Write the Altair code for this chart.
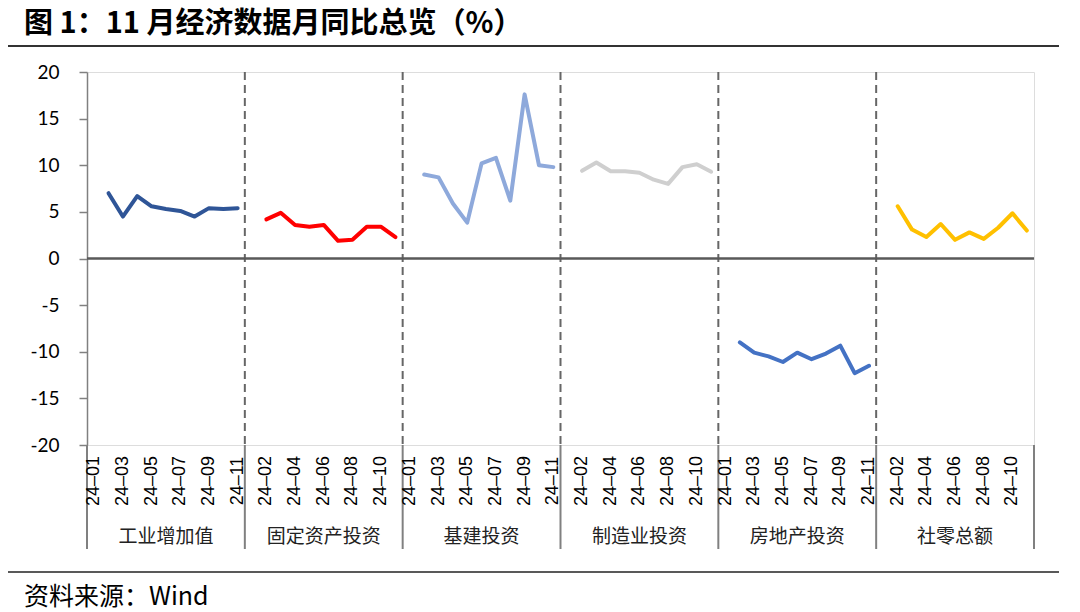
import altair as alt
import pandas as pd

months = ["24-01", "24-02", "24-03", "24-04", "24-05", "24-06",
          "24-07", "24-08", "24-09", "24-10", "24-11"]
groups = ["工业增加值", "固定资产投资", "基建投资", "制造业投资", "房地产投资", "社零总额"]
colors = ["#2F5597", "#FF0000", "#8EA9DB", "#CFCFCF", "#4472C4", "#FFC000"]

# values for 24-02 ... 24-11 (Jan-Feb combined shown at 24-02)
iva = [7.0, 4.5, 6.7, 5.6, 5.3, 5.1, 4.5, 5.4, 5.3, 5.4]
fai = [4.2, 4.9, 3.6, 3.4, 3.6, 1.9, 2.0, 3.4, 3.4, 2.3]
infra = [9.0, 8.7, 5.9, 3.85, 10.2, 10.8, 6.2, 17.6, 10.0, 9.8]
manuf = [9.4, 10.3, 9.35, 9.35, 9.2, 8.45, 8.0, 9.8, 10.1, 9.3]
estate = [-9.0, -10.1, -10.5, -11.1, -10.1, -10.8, -10.2, -9.35, -12.3, -11.5]
retail = [5.6, 3.1, 2.3, 3.7, 2.0, 2.8, 2.1, 3.3, 4.85, 3.0]
series = [iva, fai, infra, manuf, estate, retail]

yticks = [-20, -15, -10, -5, 0, 5, 10, 15, 20]

W, H = 947, 373
N = len(months)
TOTAL = N * len(groups)

rows = []
for g, (name, vals) in enumerate(zip(groups, series)):
    for k, v in enumerate(vals):
        rows.append({"group": name, "x": g * N + (k + 1) + 0.5, "v": v})
line_df = pd.DataFrame(rows)

lab_rows = []
for i in range(0, TOTAL, 2):
    lab_rows.append({"x": i + 0.5, "t": months[i % N].replace("-", "–")})
lab_df = pd.DataFrame(lab_rows)

grp_df = pd.DataFrame({"x": [g * N + N / 2 for g in range(len(groups))], "t": groups})
dash_df = pd.DataFrame({"x": [g * N for g in range(1, len(groups))]})
sep_df = pd.DataFrame({"x": [g * N for g in range(len(groups) + 1)]})

xs = alt.Scale(domain=[0, TOTAL], nice=False, zero=False)
ys = alt.Scale(domain=[-20, 20], nice=False)

dummy = pd.DataFrame({"a": [0]})

dash = alt.Chart(dash_df).mark_rule(color="#666666", strokeWidth=2, strokeDash=[8, 5]).encode(
    x=alt.X("x:Q", scale=xs, axis=None), y=alt.value(0), y2=alt.value(H))

seps = alt.Chart(sep_df).mark_rule(color="#808080", strokeWidth=2).encode(
    x=alt.X("x:Q", scale=xs, axis=None), y=alt.value(H), y2=alt.value(H + 104))

yaxis = alt.Chart(dummy).mark_point(opacity=0).encode(
    y=alt.Y("a:Q", scale=ys, title=None,
            axis=alt.Axis(values=yticks, tickSize=8, tickColor="#808080", tickWidth=1.5,
                          domainColor="#808080", domainWidth=1.5, grid=False,
                          labelFont="Lato", labelFontSize=19, labelColor="#000000",
                          labelPadding=20,
                          labelExpr="datum.value < 0 ? '-' + abs(datum.value) : '' + datum.value")))

zero = alt.Chart(dummy).mark_rule(color="#595959", strokeWidth=2.5).encode(
    x=alt.value(0), x2=alt.value(W), y=alt.value(H / 2))

lines = alt.Chart(line_df).mark_line(strokeWidth=4, strokeJoin="round", strokeCap="round").encode(
    x=alt.X("x:Q", scale=xs, axis=None),
    y=alt.Y("v:Q", scale=ys),
    color=alt.Color("group:N", scale=alt.Scale(domain=groups, range=colors), legend=None),
    detail="group:N")

mlabels = alt.Chart(lab_df).mark_text(angle=270, font="Liberation Sans", fontSize=18,
                                      color="#000000", align="center", baseline="middle").encode(
    x=alt.X("x:Q", scale=xs, axis=None), y=alt.value(H + 36), text="t:N")

glabels = alt.Chart(grp_df).mark_text(font="Noto Sans CJK SC", fontSize=19, color="#222222",
                                      align="center", baseline="middle").encode(
    x=alt.X("x:Q", scale=xs, axis=None), y=alt.value(H + 92), text="t:N")

top_rule = alt.Chart(dummy).mark_rule(color="#333333", strokeWidth=2).encode(
    x=alt.value(-79), x2=alt.value(972), y=alt.value(-26))

bot_rule = alt.Chart(dummy).mark_rule(color="#595959", strokeWidth=2).encode(
    x=alt.value(-79), x2=alt.value(972), y=alt.value(500))

source = alt.Chart(dummy).mark_text(text="资料来源：Wind", font="Noto Sans CJK SC", fontSize=25,
                                    color="#000000", align="left", baseline="middle").encode(
    x=alt.value(-63), y=alt.value(525))

chart = alt.layer(yaxis, dash, seps, zero, lines, mlabels, glabels, top_rule, bot_rule, source).properties(
    width=W, height=H,
    title=alt.TitleParams(text="图 1：11 月经济数据月同比总览（%）", font="Noto Sans CJK SC",
                          fontSize=29, fontWeight="bold", color="#000000",
                          anchor="start", frame="group", dx=-63, offset=6),
    autosize=alt.AutoSizeParams(type="none"),
    padding={"left": 87, "top": 72, "right": 1080 - 87 - W, "bottom": 612 - 72 - H},
).configure_view(stroke=None).configure(background="#ffffff")

chart.save("out.html", embed_options={"renderer": "svg", "actions": False})
